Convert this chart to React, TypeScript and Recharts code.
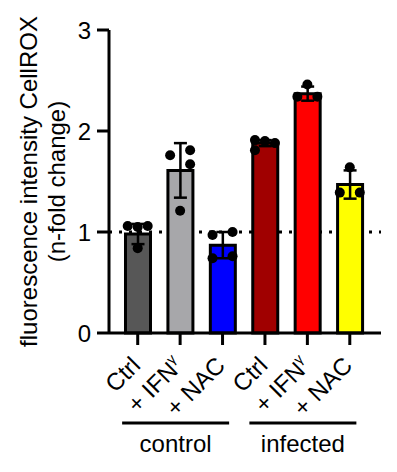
import React from "react";
import { ComposedChart, Bar, ErrorBar, Scatter, XAxis, YAxis, ReferenceLine, Cell } from "recharts";

const categoryKeys = ["control-ctrl", "control-ifn", "control-nac", "infected-ctrl", "infected-ifn", "infected-nac"];
const tickLabels = ["Ctrl", "+ IFNγ", "+ NAC", "Ctrl", "+ IFNγ", "+ NAC"];
const categoryGroup = [0, 0, 0, 1, 1, 1];
const groupLabels = ["control", "infected"];
const barMeans = [0.98, 1.61, 0.87, 1.88, 2.37, 1.47];
const barSD = [0.1, 0.27, 0.13, 0.03, 0.07, 0.14];
const barColors = ["#575757", "#a7a7aa", "#0000ff", "#a00000", "#ff0000", "#ffff00"];
const replicateCategory = [0, 0, 0, 0, 1, 1, 1, 1, 2, 2, 2, 2, 3, 3, 3, 3, 4, 4, 4, 5, 5, 5];
const replicateValues = [1.06, 1.05, 1.06, 0.84, 1.76, 1.81, 1.67, 1.21, 0.97, 1.0, 0.74, 0.76, 1.91, 1.9, 1.88, 1.81, 2.46, 2.34, 2.34, 1.64, 1.39, 1.39];
const replicateColumn = [-1, 0, 1, 0, -1, 1, 1, 0, -1, 1, -1, 1, -1, 0, 1, -1, 0, -1, 1, 0, -1, 1];
const yTicks = [0, 1, 2, 3];
const yLabelLines = ["fluorescence intensity CellROX", "(n-fold change)"];

const FONT = "'Liberation Sans', Arial, sans-serif";

const barData = categoryKeys.map((key, i) => ({ key, mean: barMeans[i], sd: barSD[i] }));
const dotData = replicateValues.map((v, i) => ({
  key: categoryKeys[replicateCategory[i]],
  value: v,
  column: replicateColumn[i],
}));

const DotShape = (props: any) => {
  const { cx, cy, payload } = props;
  if (cx == null || cy == null) return null;
  return <circle cx={cx + (payload?.column ?? 0) * 10} cy={cy} r={5} fill="#000" />;
};

const XTick = (props: any) => {
  const { x, y, payload, index } = props;
  const i = typeof index === "number" ? index : categoryKeys.indexOf(payload.value);
  const label = tickLabels[i] ?? "";
  const ax = x + 4;
  const ay = y + 20;
  const hasSup = label.endsWith("γ");
  const main = hasSup ? label.slice(0, -1) : label;
  const g = categoryGroup[i];
  const members = categoryGroup.map((c, j) => (c === g ? j : -1)).filter((j) => j >= 0);
  const isMid = members[Math.floor(members.length / 2)] === i;
  const gx = x - 4.5;
  return (
    <g>
      <text
        x={ax}
        y={ay}
        textAnchor="end"
        transform={`rotate(-45, ${ax}, ${ay})`}
        fontSize={24}
        fontFamily={FONT}
        fill="#000"
      >
        {main}
        {hasSup && (
          <tspan fontSize={14} dy={-10}>
            γ
          </tspan>
        )}
      </text>
      {isMid && (
        <g>
          <line x1={gx - 53.5} x2={gx + 53.5} y1={y + 76} y2={y + 76} stroke="#000" strokeWidth={3} />
          <text x={gx} y={y + 105} textAnchor="middle" fontSize={24} fontFamily={FONT} fill="#000">
            {groupLabels[g]}
          </text>
        </g>
      )}
    </g>
  );
};

const YLabel = (props: any) => {
  const vb = props.viewBox || { x: 0, y: 30, width: 109, height: 303 };
  const cy = vb.y + vb.height / 2;
  const xs = [vb.x + 37, vb.x + 65];
  return (
    <g>
      {yLabelLines.map((t, k) => (
        <text
          key={k}
          x={xs[k]}
          y={cy}
          textAnchor="middle"
          transform={`rotate(-90, ${xs[k]}, ${cy})`}
          fontSize={24}
          fontFamily={FONT}
          fill="#000"
        >
          {t}
        </text>
      ))}
    </g>
  );
};

export default function App() {
  return (
    <div style={{ position: "absolute", left: 0, top: 0, background: "#fff" }}>
      <ComposedChart width={397} height={472} data={barData} margin={{ top: 30, right: 16, bottom: 0, left: 0 }}>
        <ReferenceLine
          y={1}
          stroke="#000"
          strokeWidth={3}
          strokeDasharray="3 7"
          zIndex={50}
          ifOverflow="extendDomain"
        />
        <XAxis
          dataKey="key"
          allowDuplicatedCategory={false}
          interval={0}
          padding={{ left: 7.5, right: 10 }}
          height={139}
          tickSize={12}
          tickMargin={2}
          axisLine={{ stroke: "#000", strokeWidth: 3 }}
          tickLine={{ stroke: "#000", strokeWidth: 3 }}
          tick={<XTick />}
        />
        <YAxis
          type="number"
          domain={[0, 3]}
          ticks={yTicks}
          width={109}
          tickSize={12}
          tickMargin={6}
          axisLine={{ stroke: "#000", strokeWidth: 3 }}
          tickLine={{ stroke: "#000", strokeWidth: 3 }}
          tick={{ fontSize: 24, fill: "#000", fontFamily: FONT }}
          label={<YLabel />}
        />
        <Bar dataKey="mean" barSize={25} stroke="#000" strokeWidth={3} isAnimationActive={false}>
          {barData.map((d, i) => (
            <Cell key={d.key} fill={barColors[i]} />
          ))}
          <ErrorBar dataKey="sd" width={6.5} stroke="#000" strokeWidth={2.5} direction="y" />
        </Bar>
        <Scatter data={dotData} dataKey="value" isAnimationActive={false} shape={DotShape} />
      </ComposedChart>
    </div>
  );
}
